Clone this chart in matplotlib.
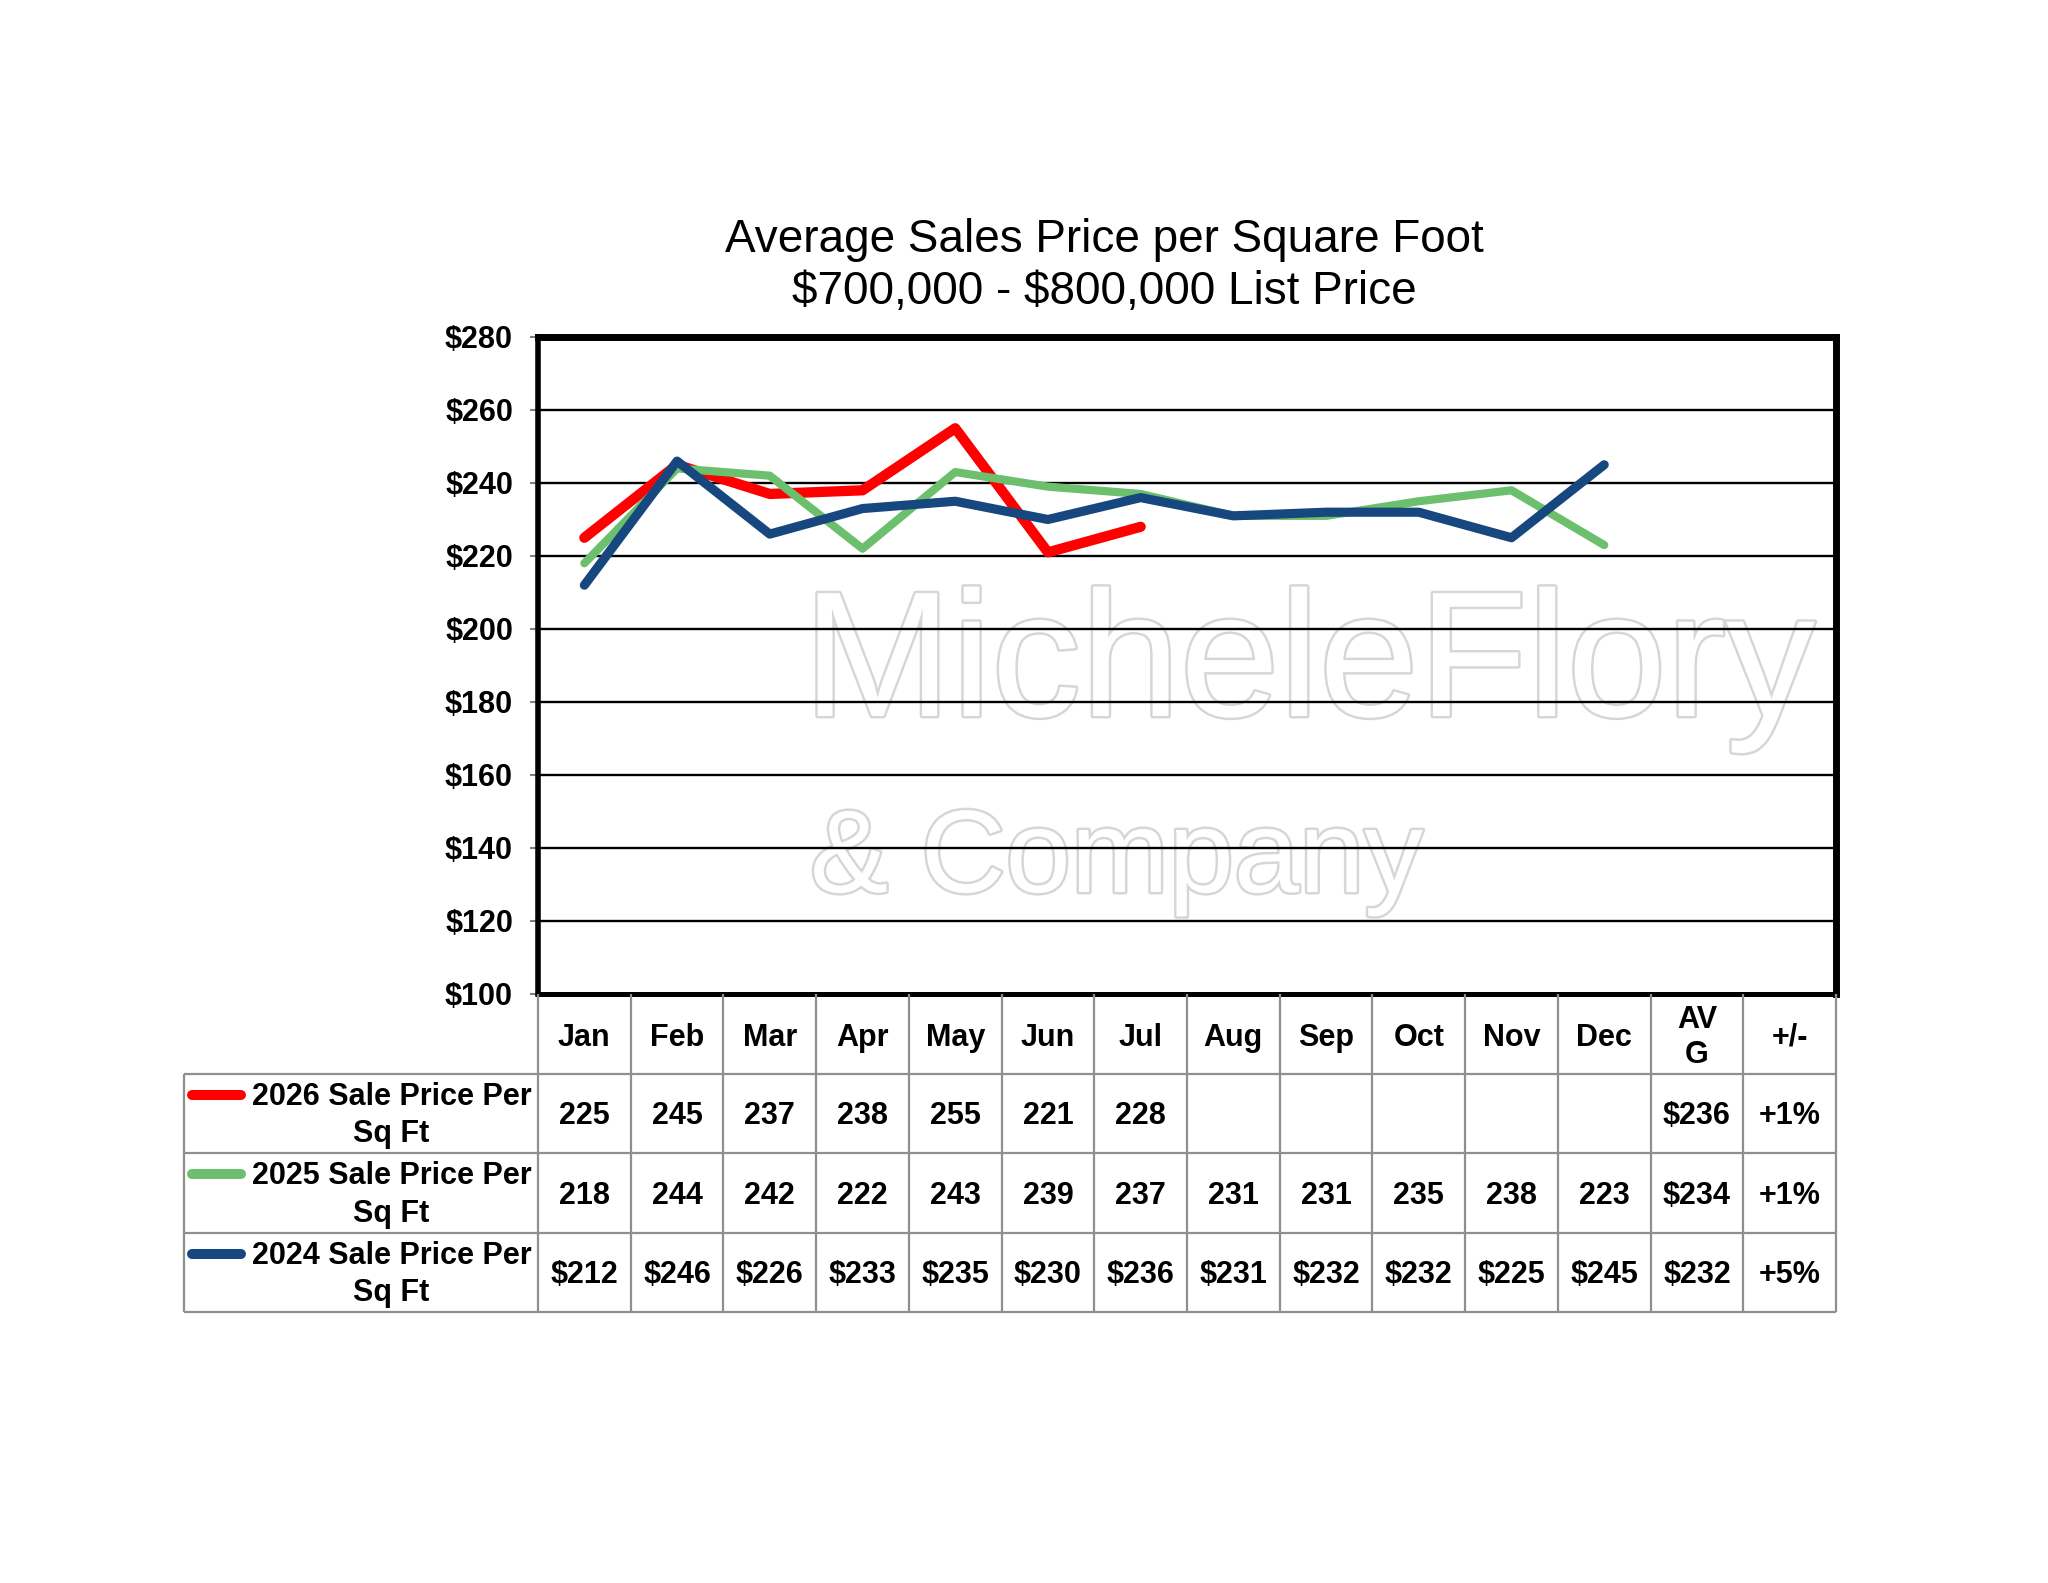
import numpy as np
import matplotlib
matplotlib.use("Agg")
import matplotlib.pyplot as plt
import matplotlib.patheffects as pe
from matplotlib import font_manager

# ---------------- data ----------------
months = ["Jan", "Feb", "Mar", "Apr", "May", "Jun", "Jul", "Aug", "Sep", "Oct", "Nov", "Dec"]
extra_headers = ["AV\nG", "+/-"]
y2026 = [225, 245, 237, 238, 255, 221, 228]
y2025 = [218, 244, 242, 222, 243, 239, 237, 231, 231, 235, 238, 223]
y2024 = [212, 246, 226, 233, 235, 230, 236, 231, 232, 232, 225, 245]
avg_vals = ["$236", "$234", "$232"]
chg_vals = ["+1%", "+1%", "+5%"]
series_labels = ["2026 Sale Price Per\nSq Ft", "2025 Sale Price Per\nSq Ft", "2024 Sale Price Per\nSq Ft"]
series_prefix = ["", "", "$"]
series_colors = ["#FF0000", "#6CBF6C", "#17477F"]
series_lw = [7.4, 5.9, 6.6]
yticks = [100, 120, 140, 160, 180, 200, 220, 240, 260, 280]
title_lines = ["Average Sales Price per Square Foot", r"\$700,000 - \$800,000 List Price"]

FONT = "Liberation Sans"
names = {f.name for f in font_manager.fontManager.ttflist}
WFONT = "Liberation Sans Narrow" if "Liberation Sans Narrow" in names else FONT

W, H = 2048, 1583
fig = plt.figure(figsize=(W / 100, H / 100), dpi=100)
fig.patch.set_facecolor("white")

# ---------------- chart ----------------
axL, axR, axT, axB = 538, 1836, 337, 994
ax = fig.add_axes([axL / W, 1 - axB / H, (axR - axL) / W, (axB - axT) / H])
ncat = len(months) + len(extra_headers)
ax.set_xlim(-0.5, ncat - 0.5)
ax.set_ylim(yticks[0], yticks[-1])
ax.set_yticks(yticks)
ax.set_yticklabels([f"${v}" for v in yticks], fontsize=22, fontweight="bold", family=FONT)
ax.set_xticks([])
ax.tick_params(axis="y", direction="out", length=6, width=1.5, color="#808080", pad=12)
ax.yaxis.grid(True, color="black", linewidth=1.7)
ax.set_axisbelow(True)
for side, lw in [("left", 4), ("bottom", 3.6), ("top", 5), ("right", 5)]:
    ax.spines[side].set_linewidth(lw)
    ax.spines[side].set_color("black")

all_series = [y2026, y2025, y2024]
for vals, col, lw in zip(all_series, series_colors, series_lw):
    ax.plot(np.arange(len(vals)), vals, color=col, linewidth=lw,
            solid_capstyle="round", solid_joinstyle="round", zorder=3)

# watermark (faint outlined text behind the gridlines)
wm_specs = [("MicheleFlory", 803, 1815, 716), ("& Company", 810, 1423, 892)]
fig.canvas.draw()
renderer = fig.canvas.get_renderer()
for txt, x0, x1, base in wm_specs:
    t = ax.text(x0 / W, 1 - base / H, txt, transform=fig.transFigure, ha="left", va="baseline",
                fontsize=100, family=WFONT, color="white", zorder=0.2, clip_on=False,
                path_effects=[pe.Stroke(linewidth=3.5, foreground="#d6d6d6"), pe.Normal()])
    bb = t.get_window_extent(renderer)
    t.set_fontsize(100 * (x1 - x0) / bb.width)

# ---------------- title ----------------
fig.text(1104 / W, 1 - 240 / H, title_lines[0], ha="center", va="center", fontsize=33, family=FONT)
fig.text(1104 / W, 1 - 292 / H, title_lines[1], ha="center", va="center", fontsize=33, family=FONT)

# ---------------- data table ----------------
tL, tB = 184, 1312
tax = fig.add_axes([tL / W, 1 - tB / H, (axR - tL) / W, (tB - axB) / H])
colw = (axR - axL) / ncat
xleft = -0.5 - (axL - tL) / colw
tax.set_xlim(xleft, ncat - 0.5)
tax.set_ylim(4, 0)
tax.axis("off")
gc = "#8F8F8F"
glw = 1.6
for k in range(ncat + 1):
    tax.plot([k - 0.5, k - 0.5], [0, 4], color=gc, lw=glw, solid_capstyle="butt", clip_on=False)
for r in range(1, 5):
    tax.plot([xleft, ncat - 0.5], [r, r], color=gc, lw=glw, solid_capstyle="butt", clip_on=False)
tax.plot([xleft, xleft], [1, 4], color=gc, lw=glw, solid_capstyle="butt", clip_on=False)

TFS = 22
headers = months + extra_headers
for i, h in enumerate(headers):
    tax.text(i, 0.55, h, ha="center", va="center", fontsize=TFS, fontweight="bold",
             family=FONT, linespacing=1.22)

sw_x0 = xleft + 0.085
sw_x1 = xleft + 0.62
label_cx = (xleft + 0.62 + (-0.5)) / 2
for r, (vals, lab, pre, col) in enumerate(zip(all_series, series_labels, series_prefix, series_colors)):
    yc = r + 1.5
    tax.plot([sw_x0, sw_x1], [r + 1.27, r + 1.27], color=col, lw=7.2, solid_capstyle="round", clip_on=False)
    tax.text(label_cx + 0.02, yc + 0.03, lab, ha="center", va="center", fontsize=TFS, fontweight="bold",
             family=FONT, linespacing=1.32)
    for i, v in enumerate(vals):
        tax.text(i, yc + 0.04, f"{pre}{v}", ha="center", va="center", fontsize=TFS, fontweight="bold", family=FONT)
    tax.text(len(months), yc + 0.04, avg_vals[r], ha="center", va="center", fontsize=TFS, fontweight="bold", family=FONT)
    tax.text(len(months) + 1, yc + 0.04, chg_vals[r], ha="center", va="center", fontsize=TFS, fontweight="bold", family=FONT)

fig.savefig("out.png", dpi=100, facecolor="white")
